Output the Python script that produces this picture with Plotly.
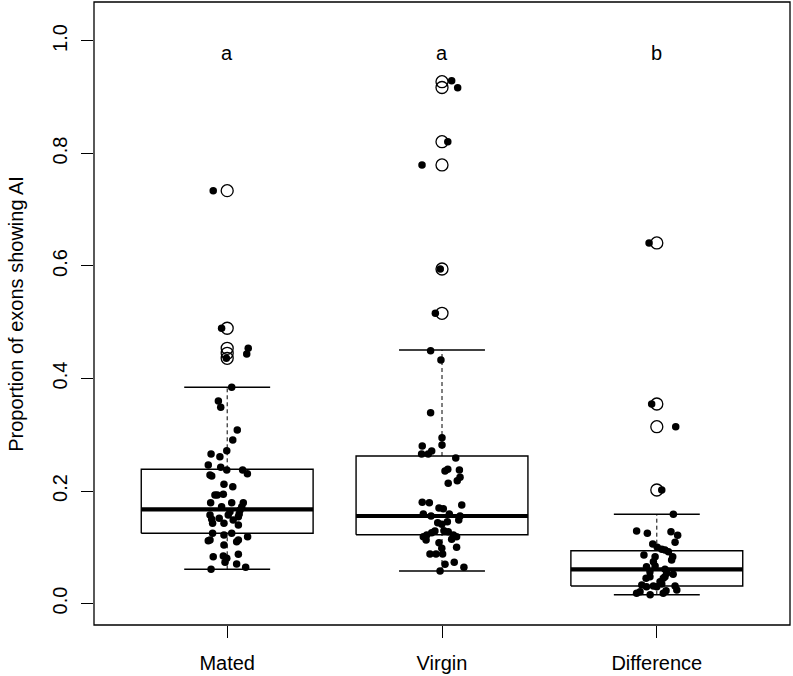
import plotly.graph_objects as go

categories = ["Mated", "Virgin", "Difference"]
positions = [1, 2, 3]
group_letters = ["a", "a", "b"]
letter_y = 0.978

# Box statistics (lower whisker, Q1, median, Q3, upper whisker)
box_lower = [0.0608, 0.0578, 0.0156]
box_q1 = [0.1248, 0.1223, 0.0311]
box_median = [0.1675, 0.1556, 0.0608]
box_q3 = [0.2386, 0.2622, 0.0939]
box_upper = [0.3844, 0.4507, 0.1586]

# Outliers (open circles)
mated_outliers = [0.7339, 0.4893, 0.4537, 0.4448, 0.4359]
virgin_outliers = [0.9276, 0.9173, 0.8210, 0.7796, 0.5947, 0.5159]
diff_outliers = [0.6410, 0.3547, 0.3143, 0.2018]

# Jittered observations: values and horizontal jitter
mated_vals = [0.3844, 0.360, 0.349, 0.3084, 0.2907, 0.2716, 0.2658, 0.261, 0.2462, 0.2421,
              0.2373, 0.2373, 0.2308, 0.2284, 0.2267, 0.2119, 0.2076, 0.1929, 0.1929, 0.1941,
              0.1792, 0.1721, 0.1792, 0.1792, 0.1721, 0.1662, 0.1591, 0.1543, 0.1632, 0.1573,
              0.1573, 0.1497, 0.1426, 0.1515, 0.1426, 0.1484, 0.1396, 0.1248, 0.1218, 0.1248,
              0.1188, 0.1129, 0.1116, 0.1129, 0.1099, 0.1040, 0.0832, 0.0844, 0.0804, 0.0732,
              0.0875, 0.0702, 0.0644, 0.0608, 0.7339, 0.4893, 0.4537, 0.4436, 0.4359]
mated_jit = [0.021, -0.041, -0.030, 0.047, 0.026, -0.002, -0.075, -0.034, -0.088, -0.030,
             -0.002, 0.072, 0.094, -0.080, -0.072, -0.015, 0.026, -0.057, -0.046, -0.018,
             -0.077, -0.026, 0.021, 0.075, 0.068, 0.060, 0.056, 0.052, 0.013, 0.005,
             -0.080, -0.072, -0.068, -0.037, -0.015, 0.028, 0.052, -0.068, -0.015, 0.021,
             0.095, -0.080, -0.088, 0.052, 0.044, -0.015, -0.065, -0.018, -0.002, -0.010,
             0.052, 0.044, 0.086, -0.075, -0.065, -0.026, 0.098, 0.091, -0.004]

virgin_vals = [0.2948, 0.2818, 0.3392, 0.280, 0.2711, 0.2658, 0.2658, 0.2587, 0.2386, 0.2356,
               0.2373, 0.2244, 0.2183, 0.2137, 0.1799, 0.1792, 0.1698, 0.1685, 0.1751, 0.1591,
               0.1556, 0.1591, 0.1556, 0.1436, 0.1408, 0.1454, 0.1484, 0.1289, 0.1259, 0.1218,
               0.1294, 0.1276, 0.1188, 0.1129, 0.1218, 0.1188, 0.1141, 0.1081, 0.0981, 0.0999,
               0.0880, 0.0880, 0.0880, 0.0732, 0.0697, 0.0644, 0.0578, 0.4494, 0.4329, 0.5159,
               0.5947, 0.7796, 0.8210, 0.9294, 0.9170]
virgin_jit = [0.0, 0.0, -0.053, -0.092, -0.048, -0.064, -0.095, 0.064, 0.027, 0.014,
              0.081, 0.084, 0.071, 0.029, -0.092, -0.059, -0.014, 0.006, 0.092, -0.087,
              -0.051, 0.034, 0.084, -0.020, -0.001, 0.025, 0.078, -0.033, -0.048, -0.071,
              0.009, 0.029, -0.087, -0.074, 0.053, 0.068, 0.045, -0.014, -0.001, 0.068,
              -0.056, -0.028, 0.003, 0.057, 0.014, 0.102, -0.009, -0.053, -0.005, -0.031,
              -0.008, -0.093, 0.027, 0.045, 0.073]

diff_vals = [0.2018, 0.1586, 0.1289, 0.1248, 0.1276, 0.1212, 0.1088, 0.1058, 0.0999, 0.0964,
             0.0951, 0.0921, 0.0862, 0.0832, 0.0832, 0.0773, 0.0654, 0.0667, 0.0608, 0.0537,
             0.0519, 0.0448, 0.0476, 0.0448, 0.0388, 0.0347, 0.0329, 0.0299, 0.0311, 0.0311,
             0.0240, 0.0181, 0.0210, 0.0156, 0.0181, 0.0228, 0.0743, 0.0565, 0.0476, 0.0299,
             0.3547, 0.3143, 0.6410]
diff_jit = [0.023, 0.077, -0.094, -0.044, 0.066, 0.097, 0.085, -0.019, 0.002, 0.023,
            0.038, 0.054, -0.060, -0.008, 0.074, 0.069, -0.048, -0.008, 0.038, 0.046,
            0.076, -0.050, -0.032, 0.030, 0.015, 0.023, -0.070, -0.048, -0.016, 0.085,
            0.093, -0.094, -0.078, -0.031, 0.030, 0.043, -0.016, -0.032, 0.038, 0.000,
            -0.024, 0.088, -0.036]

FONT = "Liberation Sans, Arial, sans-serif"
BOX_HALF = 0.4
CAP_HALF = 0.2

fig = go.Figure()

# Boxes
for i, c in enumerate(positions):
    # whiskers (dashed)
    fig.add_trace(go.Scatter(x=[c, c], y=[box_q3[i], box_upper[i]], mode="lines",
                             line=dict(color="black", width=1, dash="4px,3px"), hoverinfo="skip"))
    fig.add_trace(go.Scatter(x=[c, c], y=[box_lower[i], box_q1[i]], mode="lines",
                             line=dict(color="black", width=1, dash="4px,3px"), hoverinfo="skip"))
    # caps
    for v in (box_upper[i], box_lower[i]):
        fig.add_trace(go.Scatter(x=[c - CAP_HALF, c + CAP_HALF], y=[v, v], mode="lines",
                                 line=dict(color="black", width=1.4), hoverinfo="skip"))
    # box body
    fig.add_trace(go.Scatter(x=[c - BOX_HALF, c + BOX_HALF, c + BOX_HALF, c - BOX_HALF, c - BOX_HALF],
                             y=[box_q1[i], box_q1[i], box_q3[i], box_q3[i], box_q1[i]],
                             mode="lines", fill="toself", fillcolor="white",
                             line=dict(color="black", width=1.4), hoverinfo="skip"))
    # median
    fig.add_trace(go.Scatter(x=[c - BOX_HALF, c + BOX_HALF], y=[box_median[i], box_median[i]],
                             mode="lines", line=dict(color="black", width=4.2), hoverinfo="skip"))

# Outliers (open circles)
for c, outs in zip(positions, [mated_outliers, virgin_outliers, diff_outliers]):
    fig.add_trace(go.Scatter(x=[c] * len(outs), y=outs, mode="markers",
                             marker=dict(symbol="circle-open", size=12, color="black",
                                         line=dict(width=1.3)), hoverinfo="skip"))

# Jittered points
for c, vals, jit in zip(positions, [mated_vals, virgin_vals, diff_vals],
                        [mated_jit, virgin_jit, diff_jit]):
    fig.add_trace(go.Scatter(x=[c + j for j in jit], y=vals, mode="markers",
                             marker=dict(symbol="circle", size=7.5, color="black"),
                             hoverinfo="skip"))

# Letters
for c, lab in zip(positions, group_letters):
    fig.add_annotation(x=c, y=letter_y, text=lab, showarrow=False, xanchor="center",
                       yanchor="middle", font=dict(family=FONT, size=20, color="black"))

# Y title
fig.add_annotation(x=-0.113, y=0.5, xref="paper", yref="paper",
                   text="Proportion of exons showing AI", textangle=-90, showarrow=False,
                   xanchor="center", yanchor="middle",
                   font=dict(family=FONT, size=20, color="black"))

# Frame
fig.add_shape(type="rect", xref="paper", yref="paper", x0=0, y0=0, x1=1, y1=1,
              line=dict(color="black", width=1.3))

yticks = [0.0, 0.2, 0.4, 0.6, 0.8, 1.0]
fig.update_layout(
    width=793, height=676,
    margin=dict(l=94, r=3, t=2, b=51),
    plot_bgcolor="white", paper_bgcolor="white",
    showlegend=False,
    font=dict(family=FONT, size=20, color="black"),
    xaxis=dict(range=[0.38, 3.62], tickvals=positions, ticktext=categories,
               ticks="outside", ticklen=12, tickwidth=1.2, tickcolor="black",
               showgrid=False, zeroline=False, showline=False, automargin=False,
               ticklabelstandoff=8,
               tickfont=dict(family=FONT, size=20, color="black")),
    yaxis=dict(range=[-0.0382, 1.0693], tickvals=yticks,
               ticktext=[f"{t:.1f}" for t in yticks], tickangle=-90,
               ticks="outside", ticklen=12, tickwidth=1.2, tickcolor="black",
               showgrid=False, zeroline=False, showline=False, automargin=False,
               ticklabelstandoff=6,
               tickfont=dict(family=FONT, size=20, color="black")),
)

fig.write_html("out.html", config={"displayModeBar": False},
               post_script="document.body.style.margin='0px';document.body.style.padding='0px';")
